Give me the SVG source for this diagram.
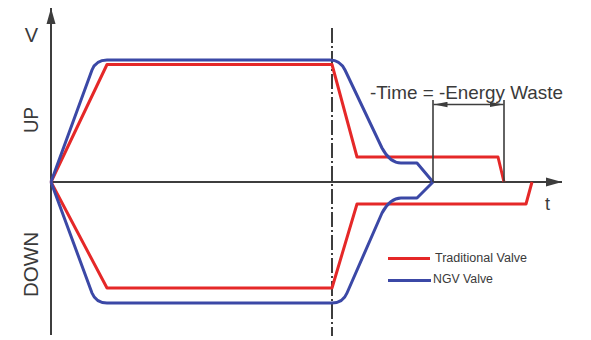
<svg xmlns="http://www.w3.org/2000/svg" width="591" height="340" viewBox="0 0 591 340">
<defs>
<style>
.ax{stroke:#3d3d3d;stroke-width:2;fill:none}
.thin{stroke:#3d3d3d;stroke-width:1.6;fill:none}
.red{stroke:#e52828;stroke-width:3;fill:none;stroke-linejoin:round}
.blue{stroke:#3b48a6;stroke-width:3;fill:none;stroke-linejoin:round}
.lbl{font-family:"Liberation Sans",Arial,sans-serif;fill:#3a3a3a}
</style>
<marker id="axArrow" markerUnits="userSpaceOnUse" markerWidth="16" markerHeight="10" viewBox="0 0 16 10" refX="16" refY="5" orient="auto">
<path d="M0,0.5 L16,5 L0,9.5 Z" fill="#3d3d3d"/>
</marker>
<marker id="dimArrow" markerUnits="userSpaceOnUse" markerWidth="14" markerHeight="6" viewBox="0 0 14 6" refX="14" refY="3" orient="auto">
<path d="M0,0.3 L14,3 L0,5.7 Z" fill="#3d3d3d"/>
</marker>
</defs>
<rect width="591" height="340" fill="#ffffff"/>

<g id="axes">
<line class="ax" x1="51" y1="335" x2="51" y2="8" marker-end="url(#axArrow)"/>
<line class="ax" x1="51" y1="182" x2="562" y2="182" marker-end="url(#axArrow)"/>
<line class="ax" x1="332" y1="28" x2="332" y2="336" stroke-dasharray="15 3 2 3"/>
</g>

<g id="labels">
<text class="lbl" x="31.5" y="42" font-size="20" text-anchor="middle">V</text>
<text class="lbl" font-size="19.5" text-anchor="middle" transform="translate(37.5,120) rotate(-90)" textLength="26" lengthAdjust="spacingAndGlyphs">UP</text>
<text class="lbl" font-size="19.5" text-anchor="middle" transform="translate(37.5,264.5) rotate(-90)" textLength="65" lengthAdjust="spacingAndGlyphs">DOWN</text>
<text class="lbl" x="545" y="210" font-size="18">t</text>
</g>

<g id="traditional-valve">
<path class="red" d="M51,182 L107,64.5 L332,64.5 L357,157 L498,157 L504,182"/>
<path class="red" d="M51,182 L107,288 L332,288 L357,204 L526,204 L532,182"/>
</g>

<g id="ngv-valve">
<path class="blue" d="M51,182 L92,70 Q96,60 107,60 L330,60 Q340,60 345,70 L382,148 Q390,163 401,163 L417,163 L433,182"/>
<path class="blue" d="M433,182 L417,198 L401,198 Q390,198 382,213 L347,293 Q343,303 332,303 L107,303 Q96,303 92,293 L51,182"/>
</g>

<g id="energy-waste">
<line class="thin" x1="433" y1="100" x2="433" y2="182"/>
<line class="thin" x1="504" y1="100" x2="504" y2="182"/>
<line class="thin" x1="468" y1="104.5" x2="433.5" y2="104.5" marker-end="url(#dimArrow)"/>
<line class="thin" x1="468" y1="104.5" x2="503.5" y2="104.5" marker-end="url(#dimArrow)"/>
<text class="lbl" x="370" y="99" font-size="19" textLength="193" lengthAdjust="spacingAndGlyphs">-Time = -Energy Waste</text>
</g>

<g id="legend">
<line x1="388" y1="258.5" x2="430" y2="258.5" stroke="#e52828" stroke-width="3"/>
<line x1="388" y1="280.5" x2="431" y2="280.5" stroke="#3b48a6" stroke-width="3"/>
<text class="lbl" x="435" y="262" font-size="12.3" textLength="92" lengthAdjust="spacingAndGlyphs">Traditional Valve</text>
<text class="lbl" x="433" y="283" font-size="12.3">NGV Valve</text>
</g>
</svg>
